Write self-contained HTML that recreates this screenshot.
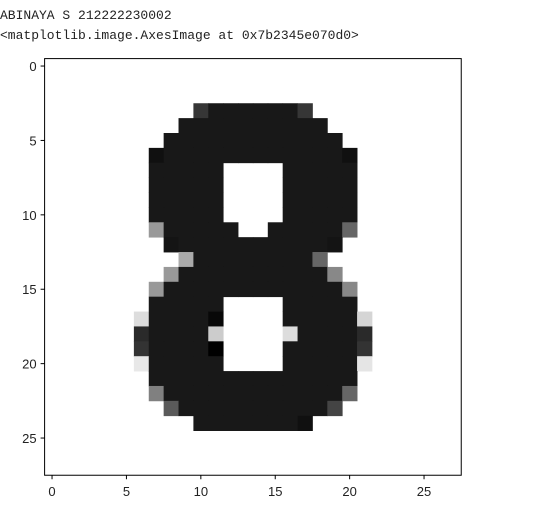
<!DOCTYPE html>
<html><head><meta charset="utf-8"><style>
body{margin:0;background:#fff;width:548px;height:506px;overflow:hidden}
.t{position:absolute;left:0;font-family:"Liberation Mono",monospace;font-size:13px;color:#222;white-space:pre}
</style></head><body>
<div class="t" style="top:8px">ABINAYA S 212222230002</div>
<div class="t" style="top:28px">&lt;matplotlib.image.AxesImage at 0x7b2345e070d0&gt;</div>
<svg id="c" width="548" height="506" style="position:absolute;left:0;top:0"></svg>
<script>
// ink spans: [row, colStart, colEnd] filled with dark pixels
const spans = [[3,10,17],[4,9,18],[5,8,19],[6,7,20],[7,7,20],[8,7,20],[9,7,20],[10,7,20],[11,8,19],[12,8,19],[13,10,17],[14,9,18],[15,8,19],[16,7,20],[17,7,20],[18,7,20],[19,7,20],[20,7,20],[21,7,20],[22,8,19],[23,9,18],[24,10,17]];
// white holes: [row, colStart, colEnd]
const holes = [[7,12,15],[8,12,15],[9,12,15],[10,12,15],[11,13,14],[16,12,15],[17,12,15],[18,12,15],[19,12,15],[20,12,15]];
// individual pixel grays: [row, col, gray 0-255]
const overrides = [[3,10,54],[3,17,54],[6,7,16],[6,20,16],[11,7,153],[11,20,102],[12,8,20],[12,19,20],[13,9,170],[13,18,102],[14,8,153],[14,19,136],[15,7,153],[15,20,136],[17,6,221],[17,11,8],[17,21,213],[18,6,42],[18,11,204],[18,16,221],[18,21,42],[19,6,51],[19,11,0],[19,21,51],[20,6,232],[20,21,229],[22,7,128],[22,20,102],[23,8,90],[23,19,68],[24,17,16]];
const xTicks = [0,5,10,15,20,25];
const yTicks = [0,5,10,15,20,25];
const N = 28, DARK = 24;
const L = 44.6, T = 58.6, S = 14.88;
const px = c => L + S * c, py = r => T + S * r;
const svg = document.getElementById('c'), NS = 'http://www.w3.org/2000/svg';
function mk(tag, attrs){const e=document.createElementNS(NS,tag);for(const k in attrs)e.setAttribute(k,attrs[k]);svg.appendChild(e);return e;}
const grid = Array.from({length:N},()=>Array(N).fill(255));
spans.forEach(([r,a,b])=>{for(let c=a;c<=b;c++)grid[r][c]=DARK;});
holes.forEach(([r,a,b])=>{for(let c=a;c<=b;c++)grid[r][c]=255;});
overrides.forEach(([r,c,g])=>{grid[r][c]=g;});
for(let r=0;r<N;r++)for(let c=0;c<N;c++){
  if(grid[r][c]===255)continue;
  const g=grid[r][c];
  const e=mk('rect',{x:px(c),y:py(r),width:S+0.4,height:S+0.4,fill:`rgb(${g},${g},${g})`});
  
  
}
const frame=mk('rect',{x:L,y:T,width:S*N,height:S*N,fill:'none',stroke:'#000','stroke-width':1});


xTicks.forEach(v=>{
  const x=px(v+0.5);
  const tk=mk('line',{x1:x,x2:x,y1:T+S*N,y2:T+S*N+4,stroke:'#000'});
  
  
  const tx=mk('text',{x:x,y:T+S*N+21,'text-anchor':'middle','font-family':'Liberation Sans, sans-serif','font-size':13,fill:'#222'});
  tx.textContent=v;
  
  
});
yTicks.forEach(v=>{
  const y=py(v+0.5);
  const tk=mk('line',{x1:L-4,x2:L,y1:y,y2:y,stroke:'#000'});
  
  
  const tx=mk('text',{x:L-8,y:y+5,'text-anchor':'end','font-family':'Liberation Sans, sans-serif','font-size':13,fill:'#222'});
  tx.textContent=v;
  
  
});
</script>
</body></html>
